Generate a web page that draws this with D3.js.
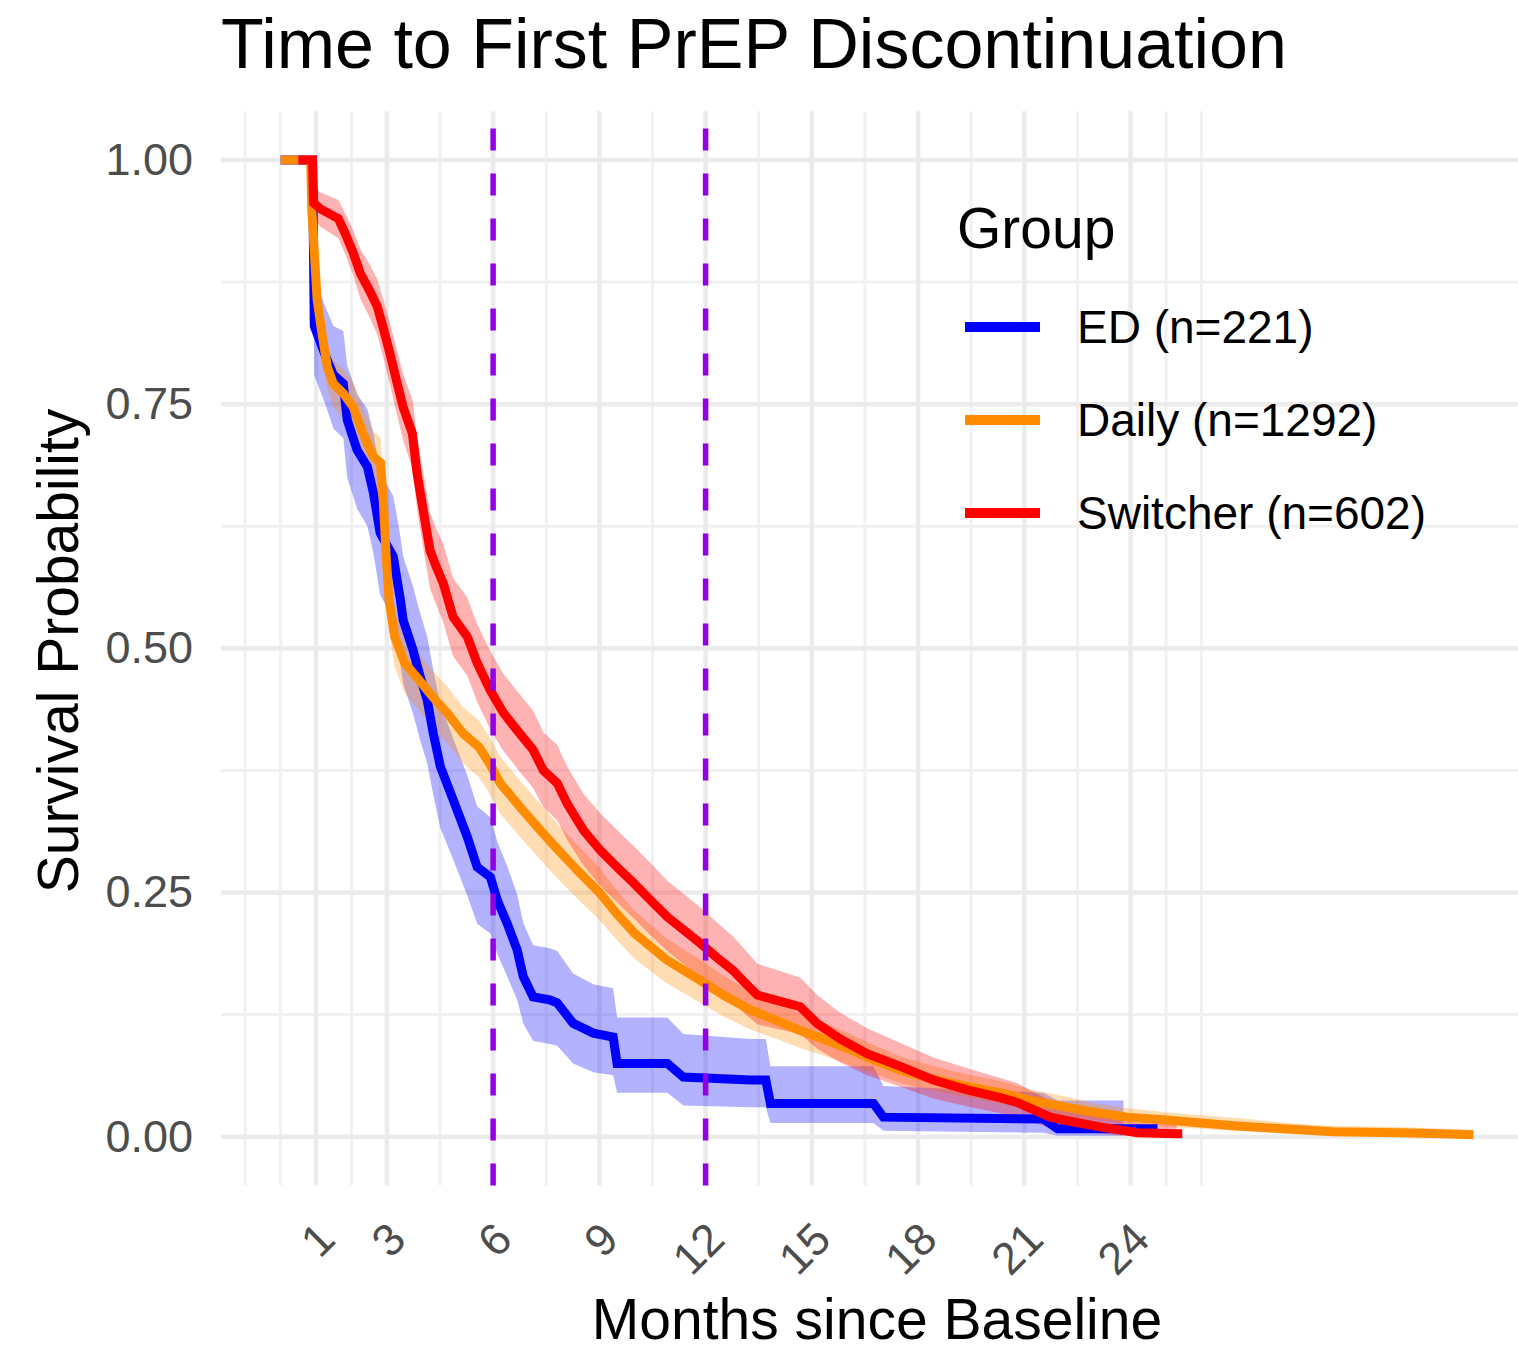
<!DOCTYPE html>
<html>
<head>
<meta charset="utf-8">
<script src="https://cdn.jsdelivr.net/npm/d3@7"></script>
<style>
  body { margin: 0; background: #fff; }
  text { font-family: "Liberation Sans", Arial, sans-serif; }
</style>
</head>
<body>
<svg id="chart" width="1518" height="1352"></svg>
<script>
// groups / colours
const groups = ["ED (n=221)", "Daily (n=1292)", "Switcher (n=602)"];
const groupColors = ["#0000FF", "#FF8C00", "#FF0000"];

// curve vertices: months, survival, lower CI, upper CI
const edTime  = [0, 0.9, 0.95, 1.26, 1.49, 1.77, 1.88, 2.16, 2.45, 2.62, 2.81, 3.18, 3.38, 3.46, 3.74, 3.94, 4.14, 4.31, 4.51, 4.87, 5.27, 5.55, 5.92, 6.12, 6.4, 6.68, 6.85, 7.13, 7.6, 7.81, 8.26, 8.83, 9.39, 9.5, 10.92, 11.37, 13.26, 13.7, 13.83, 16.74, 17.02, 21.54, 21.94, 23.8, 24.76];
const edSurv  = [1, 1, 0.83, 0.80, 0.78, 0.771, 0.734, 0.703, 0.686, 0.659, 0.618, 0.594, 0.55, 0.529, 0.498, 0.471, 0.447, 0.413, 0.379, 0.345, 0.307, 0.276, 0.266, 0.242, 0.218, 0.191, 0.164, 0.143, 0.14, 0.137, 0.116, 0.106, 0.102, 0.075, 0.075, 0.061, 0.058, 0.058, 0.034, 0.034, 0.02, 0.018, 0.008, 0.008, 0.008];
const edLower = [1, 1, 0.78, 0.75, 0.725, 0.715, 0.675, 0.643, 0.625, 0.597, 0.555, 0.53, 0.485, 0.464, 0.433, 0.406, 0.382, 0.35, 0.316, 0.284, 0.247, 0.218, 0.208, 0.187, 0.164, 0.14, 0.116, 0.098, 0.095, 0.093, 0.075, 0.066, 0.063, 0.045, 0.045, 0.032, 0.03, 0.03, 0.014, 0.014, 0.006, 0.004, 0.001, 0.001, null];
const edUpper = [1, 1, 0.88, 0.85, 0.83, 0.825, 0.79, 0.76, 0.745, 0.72, 0.68, 0.656, 0.615, 0.594, 0.563, 0.536, 0.512, 0.478, 0.443, 0.408, 0.37, 0.338, 0.327, 0.302, 0.277, 0.248, 0.219, 0.196, 0.193, 0.19, 0.167, 0.156, 0.152, 0.122, 0.122, 0.105, 0.1, 0.1, 0.072, 0.072, 0.052, 0.045, 0.037, 0.037, null];

const dailyTime  = [0, 0.85, 0.88, 0.96, 1.03, 1.17, 1.32, 1.49, 1.77, 2.05, 2.33, 2.62, 2.82, 2.9, 2.98, 3.06, 3.22, 3.5, 3.9, 4.3, 4.7, 5.15, 5.6, 5.9, 6.2, 6.75, 7.3, 7.85, 8.45, 9.0, 9.5, 10.0, 10.9, 11.85, 12.5, 13.25, 14.0, 14.65, 15.4, 16.1, 16.8, 17.5, 18.2, 18.9, 19.6, 20.3, 21.2, 22.2, 23.0, 23.9, 25.0, 26.0, 27.0, 27.9, 28.8, 29.7, 31.6, 32.8, 33.68];
const dailySurv  = [1, 1, 0.949, 0.9, 0.857, 0.822, 0.788, 0.771, 0.761, 0.747, 0.72, 0.696, 0.69, 0.65, 0.595, 0.55, 0.512, 0.485, 0.468, 0.45, 0.434, 0.413, 0.399, 0.382, 0.362, 0.338, 0.315, 0.293, 0.27, 0.25, 0.228, 0.208, 0.181, 0.16, 0.145, 0.13, 0.119, 0.109, 0.099, 0.089, 0.078, 0.068, 0.061, 0.055, 0.05, 0.045, 0.037, 0.03, 0.025, 0.02, 0.017, 0.014, 0.011, 0.009, 0.007, 0.005, 0.004, 0.003, 0.002];
const dailyLower = [1, 1, 0.937, 0.884, 0.838, 0.8, 0.765, 0.746, 0.735, 0.72, 0.692, 0.667, 0.661, 0.622, 0.566, 0.52, 0.481, 0.454, 0.437, 0.419, 0.403, 0.382, 0.368, 0.351, 0.331, 0.307, 0.285, 0.263, 0.241, 0.222, 0.201, 0.182, 0.157, 0.137, 0.123, 0.11, 0.1, 0.091, 0.082, 0.073, 0.064, 0.055, 0.049, 0.044, 0.039, 0.034, 0.027, 0.021, 0.017, 0.013, 0.01, 0.008, 0.006, 0.004, 0.002, 0.001, 0.001, 0, 0];
const dailyUpper = [1, 1, 0.961, 0.916, 0.876, 0.844, 0.811, 0.795, 0.786, 0.773, 0.746, 0.722, 0.716, 0.677, 0.622, 0.577, 0.539, 0.512, 0.495, 0.477, 0.461, 0.44, 0.426, 0.409, 0.389, 0.365, 0.342, 0.319, 0.296, 0.275, 0.252, 0.231, 0.203, 0.181, 0.165, 0.149, 0.137, 0.127, 0.116, 0.105, 0.093, 0.082, 0.075, 0.068, 0.062, 0.057, 0.048, 0.041, 0.034, 0.029, 0.025, 0.022, 0.019, 0.016, 0.013, 0.011, 0.01, 0.008, 0.007];

const switchTime  = [0.5, 0.9, 0.93, 1.12, 1.63, 1.82, 2.05, 2.25, 2.5, 2.73, 2.92, 3.1, 3.28, 3.46, 3.72, 3.85, 3.94, 4.08, 4.22, 4.4, 4.59, 4.87, 5.27, 5.55, 5.92, 6.29, 6.68, 7.13, 7.42, 7.81, 8.09, 8.55, 9.03, 9.5, 9.96, 10.45, 10.92, 11.4, 11.85, 12.3, 12.78, 13.1, 13.46, 14.67, 15.15, 15.8, 16.56, 17.5, 18.43, 19.39, 20.32, 20.8, 21.3, 21.73, 22.4, 23.14, 24.2, 25.3, 25.46];
const switchSurv  = [1, 1, 0.956, 0.95, 0.94, 0.925, 0.905, 0.884, 0.867, 0.85, 0.825, 0.80, 0.773, 0.747, 0.72, 0.68, 0.66, 0.63, 0.60, 0.583, 0.567, 0.532, 0.512, 0.485, 0.457, 0.434, 0.416, 0.396, 0.375, 0.362, 0.341, 0.314, 0.293, 0.276, 0.26, 0.242, 0.225, 0.211, 0.198, 0.184, 0.17, 0.158, 0.145, 0.133, 0.116, 0.1, 0.085, 0.072, 0.058, 0.048, 0.04, 0.035, 0.027, 0.02, 0.015, 0.01, 0.004, 0.003, 0.003];
const switchLower = [1, 1, 0.94, 0.932, 0.92, 0.904, 0.882, 0.858, 0.84, 0.821, 0.795, 0.768, 0.74, 0.713, 0.684, 0.643, 0.622, 0.591, 0.561, 0.544, 0.527, 0.492, 0.472, 0.445, 0.417, 0.395, 0.377, 0.357, 0.337, 0.324, 0.304, 0.278, 0.257, 0.24, 0.224, 0.206, 0.19, 0.176, 0.163, 0.15, 0.137, 0.126, 0.115, 0.105, 0.09, 0.076, 0.063, 0.051, 0.039, 0.031, 0.024, 0.02, 0.014, 0.009, 0.006, 0.003, 0, 0, null];
const switchUpper = [1, 1, 0.972, 0.967, 0.959, 0.946, 0.928, 0.909, 0.894, 0.878, 0.855, 0.831, 0.806, 0.781, 0.755, 0.717, 0.698, 0.669, 0.639, 0.622, 0.607, 0.572, 0.552, 0.525, 0.497, 0.474, 0.456, 0.436, 0.414, 0.401, 0.379, 0.351, 0.331, 0.314, 0.298, 0.28, 0.262, 0.248, 0.235, 0.22, 0.205, 0.192, 0.177, 0.163, 0.145, 0.127, 0.111, 0.096, 0.081, 0.07, 0.06, 0.055, 0.045, 0.037, 0.03, 0.025, 0.014, 0.013, null];

// axes / reference lines
const xBreaks = [1, 3, 6, 9, 12, 15, 18, 21, 24];
const yBreaks = [0, 0.25, 0.5, 0.75, 1];
const refMonths = [6, 12];

const toRows = (t, s, lo, hi) => t.map((v, i) => ({t: v, s: s[i], lo: lo[i], hi: hi[i]}));
const series = [
  toRows(edTime, edSurv, edLower, edUpper),
  toRows(dailyTime, dailySurv, dailyLower, dailyUpper),
  toRows(switchTime, switchSurv, switchLower, switchUpper)
];

const svg = d3.select("#chart");
const panel = {left: 221, right: 1533, top: 111.2, bottom: 1185.5};

const tMax = d3.max([...edTime, ...dailyTime, ...switchTime]);
const pad = tMax * 0.05;
const x = d3.scaleLinear().domain([-pad, tMax + pad]).range([panel.left, panel.right]);
const y = d3.scaleLinear().domain([-0.05, 1.05]).range([panel.bottom, panel.top]);

// ggplot style minor breaks
function minorBreaks(b, lo, hi) {
  let bb = b.slice();
  const bd = bb[1] - bb[0];
  if (lo < bb[0]) bb.unshift(bb[0] - bd);
  if (hi > bb[bb.length - 1]) bb.push(bb[bb.length - 1] + bd);
  const out = [];
  for (let i = 0; i < bb.length - 1; i++) { out.push(bb[i], (bb[i] + bb[i + 1]) / 2); }
  out.push(bb[bb.length - 1]);
  return out.filter(v => v >= lo && v <= hi && !b.includes(v));
}
const xMinor = minorBreaks(xBreaks, x.domain()[0], x.domain()[1]);
const yMinor = minorBreaks(yBreaks, y.domain()[0], y.domain()[1]);

const grid = svg.append("g");
grid.selectAll("line.xmin").data(xMinor).join("line")
  .attr("x1", d => x(d)).attr("x2", d => x(d))
  .attr("y1", panel.top).attr("y2", panel.bottom)
  .attr("stroke", "#F1F1F1").attr("stroke-width", 3);
grid.selectAll("line.ymin").data(yMinor).join("line")
  .attr("x1", panel.left).attr("x2", panel.right)
  .attr("y1", d => y(d)).attr("y2", d => y(d))
  .attr("stroke", "#F1F1F1").attr("stroke-width", 3);
grid.selectAll("line.xmaj").data(xBreaks).join("line")
  .attr("x1", d => x(d)).attr("x2", d => x(d))
  .attr("y1", panel.top).attr("y2", panel.bottom)
  .attr("stroke", "#EBEBEB").attr("stroke-width", 4.5);
grid.selectAll("line.ymaj").data(yBreaks).join("line")
  .attr("x1", panel.left).attr("x2", panel.right)
  .attr("y1", d => y(d)).attr("y2", d => y(d))
  .attr("stroke", "#EBEBEB").attr("stroke-width", 4.5);

// ribbons
const area = d3.area()
  .defined(d => d.lo != null)
  .x(d => x(d.t)).y0(d => y(d.lo)).y1(d => y(d.hi));
svg.append("g").selectAll("path").data(series).join("path")
  .attr("d", area)
  .attr("fill", (d, i) => groupColors[i])
  .attr("fill-opacity", 0.3);

// survival curves
const line = d3.line().x(d => x(d.t)).y(d => y(d.s));
svg.append("g").selectAll("path").data(series).join("path")
  .attr("d", line)
  .attr("fill", "none")
  .attr("stroke", (d, i) => groupColors[i])
  .attr("stroke-width", 9)
  .attr("stroke-linejoin", "miter");

// reference lines
svg.append("g").selectAll("line").data(refMonths).join("line")
  .attr("x1", d => x(d)).attr("x2", d => x(d))
  .attr("y1", panel.bottom).attr("y2", panel.top)
  .attr("stroke", "#9400E6").attr("stroke-width", 5.5)
  .attr("stroke-dasharray", "22 23");

// axes
const yAxis = svg.append("g")
  .attr("transform", `translate(${panel.left},0)`)
  .call(d3.axisLeft(y).tickValues(yBreaks).tickFormat(d3.format(".2f")).tickSize(0).tickPadding(28));
yAxis.select(".domain").remove();
yAxis.selectAll("text").attr("font-size", 45).attr("fill", "#4D4D4D")
  .attr("font-family", "Liberation Sans, Arial, sans-serif");

const xAxis = svg.append("g")
  .attr("transform", "translate(0,1219)")
  .call(d3.axisBottom(x).tickValues(xBreaks).tickFormat(d3.format("d")).tickSize(0));
xAxis.select(".domain").remove();
xAxis.selectAll("text")
  .attr("font-size", 45).attr("fill", "#4D4D4D")
  .attr("font-family", "Liberation Sans, Arial, sans-serif")
  .attr("x", 0).attr("y", 0).attr("dy", "0.72em")
  .attr("text-anchor", "end")
  .attr("transform", "translate(-2,0) rotate(-45)");

// titles
svg.append("text").attr("x", 221).attr("y", 68)
  .attr("font-size", 70).attr("fill", "#000")
  .text("Time to First PrEP Discontinuation");
svg.append("text")
  .attr("transform", "translate(78,651) rotate(-90)")
  .attr("text-anchor", "middle").attr("font-size", 57).attr("fill", "#000")
  .text("Survival Probability");
svg.append("text").attr("x", (panel.left + panel.right) / 2).attr("y", 1339)
  .attr("text-anchor", "middle").attr("font-size", 57).attr("fill", "#000")
  .text("Months since Baseline");

// legend
const legend = svg.append("g");
legend.append("text").attr("x", 957).attr("y", 248)
  .attr("font-size", 57).attr("fill", "#000").text("Group");
const keyY = [327, 420, 513];
const items = legend.selectAll("g.item").data(groups).join("g")
  .attr("transform", (d, i) => `translate(0,${keyY[i]})`);
items.append("line")
  .attr("x1", 965).attr("x2", 1040).attr("y1", 0).attr("y2", 0)
  .attr("stroke", (d, i) => groupColors[i]).attr("stroke-width", 10);
items.append("text").attr("x", 1077).attr("y", 0).attr("dy", "0.35em")
  .attr("font-size", 46).attr("fill", "#000").text(d => d);
</script>
</body>
</html>
